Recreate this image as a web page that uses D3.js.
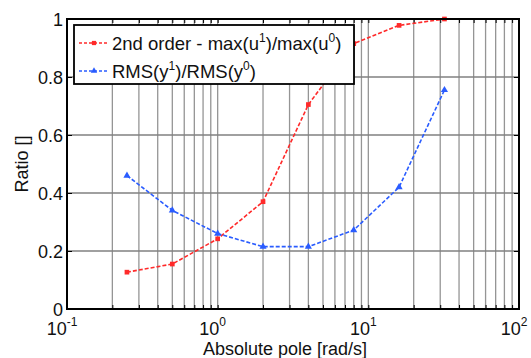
<!DOCTYPE html>
<html lang="en">
<head>
    <meta charset="UTF-8">
    <title>Ratio vs absolute pole</title>
    <script src="https://d3js.org/d3.v7.min.js"></script>
    <style>
        body {
            margin: 0;
            padding: 0;
            background-color: #fff;
            font-family: "Liberation Sans", Arial, sans-serif;
        }
        svg text {
            fill: #111;
        }
    </style>
</head>
<body>
    <svg width="531" height="358"></svg>
    <script>
        // Data
        const poles = [0.25, 0.5, 1, 2, 4, 8, 16, 32];
        const ratioMax = [0.127, 0.155, 0.242, 0.37, 0.705, 0.915, 0.978, 1.0];
        const ratioRms = [0.46, 0.34, 0.26, 0.215, 0.215, 0.272, 0.42, 0.755];
        const yTicks = [0, 0.2, 0.4, 0.6, 0.8, 1];
        const xDecades = [-1, 0, 1, 2];

        const svg = d3.select("svg"),
            margin = { top: 19, right: 12, bottom: 49, left: 67 },
            width = svg.attr("width") - margin.left - margin.right,
            height = svg.attr("height") - margin.top - margin.bottom;

        const g = svg.append("g")
            .attr("transform", `translate(${margin.left},${margin.top})`);

        // Scales
        const x = d3.scaleLog().domain([0.1, 100]).range([0, width]);
        const y = d3.scaleLinear().domain([0, 1]).range([height, 0]);

        // Grid: every minor decade tick on x, 0.2 steps on y
        const minor = [];
        for (let e = -1; e < 2; e++) {
            for (let m = 1; m < 10; m++) minor.push(m * Math.pow(10, e));
        }
        g.append("g").selectAll("line")
            .data(minor.filter(v => v > 0.1))
            .enter().append("line")
            .attr("x1", d => x(d)).attr("x2", d => x(d))
            .attr("y1", 0).attr("y2", height)
            .attr("stroke", "#959595")
            .attr("stroke-width", 1.3);

        g.append("g").selectAll("line")
            .data(yTicks.filter(v => v > 0 && v < 1))
            .enter().append("line")
            .attr("x1", 0).attr("x2", width)
            .attr("y1", d => y(d)).attr("y2", d => y(d))
            .attr("stroke", "#808080")
            .attr("stroke-width", 1.3);

        // Inward ticks
        g.append("g")
            .attr("transform", `translate(0,${height})`)
            .call(d3.axisBottom(x).tickValues(minor).tickSizeInner(-4).tickSizeOuter(0).tickFormat(""))
            .call(a => a.select(".domain").remove())
            .selectAll("line").attr("stroke", "#000");
        g.append("g")
            .call(d3.axisTop(x).tickValues(minor).tickSizeInner(-4).tickSizeOuter(0).tickFormat(""))
            .call(a => a.select(".domain").remove())
            .selectAll("line").attr("stroke", "#000");
        g.append("g")
            .call(d3.axisLeft(y).tickValues(yTicks).tickSizeInner(-5).tickSizeOuter(0).tickFormat(""))
            .call(a => a.select(".domain").remove())
            .selectAll("line").attr("stroke", "#000");
        g.append("g")
            .attr("transform", `translate(${width},0)`)
            .call(d3.axisRight(y).tickValues(yTicks).tickSizeInner(-5).tickSizeOuter(0).tickFormat(""))
            .call(a => a.select(".domain").remove())
            .selectAll("line").attr("stroke", "#000");

        // Tick labels
        g.append("g").selectAll("text")
            .data(yTicks)
            .enter().append("text")
            .attr("x", -4)
            .attr("y", d => y(d) + 6.5)
            .attr("text-anchor", "end")
            .attr("font-size", 18)
            .text(d => d === 0 || d === 1 ? d : d.toFixed(1));

        const xl = g.append("g").selectAll("text")
            .data(xDecades)
            .enter().append("text")
            .attr("x", d => x(Math.pow(10, d)) - 5)
            .attr("y", height + 26)
            .attr("text-anchor", "middle")
            .attr("font-size", 18);
        xl.append("tspan").text("10");
        xl.append("tspan").attr("dy", -9).attr("font-size", 12).text(d => d);

        // Axis titles
        svg.append("text")
            .attr("x", 285)
            .attr("y", 355)
            .attr("text-anchor", "middle")
            .attr("font-size", 18)
            .text("Absolute pole [rad/s]");
        svg.append("text")
            .attr("transform", `translate(28,${margin.top + height / 2}) rotate(-90)`)
            .attr("text-anchor", "middle")
            .attr("font-size", 18)
            .text("Ratio []");

        // Series
        const series = [
            { name: "max", values: ratioMax, color: "#ff2a2a", marker: d3.symbolSquare },
            { name: "rms", values: ratioRms, color: "#2a5cff", marker: d3.symbolTriangle }
        ];
        const line = d3.line().x(d => x(d[0])).y(d => y(d[1]));

        series.forEach(s => {
            const pts = poles.map((p, i) => [p, s.values[i]]);
            g.append("path")
                .datum(pts)
                .attr("fill", "none")
                .attr("stroke", s.color)
                .attr("stroke-width", 1.6)
                .attr("stroke-dasharray", "4,2")
                .attr("d", line);
            g.selectAll(null)
                .data(pts)
                .enter().append("path")
                .attr("transform", d => `translate(${x(d[0])},${y(d[1])})`)
                .attr("d", d3.symbol().type(s.marker).size(22))
                .attr("fill", s.color);
        });

        // Frame
        g.append("rect")
            .attr("width", width).attr("height", height)
            .attr("fill", "none")
            .attr("stroke", "#000")
            .attr("stroke-width", 2);

        // Legend
        const legend = g.append("g").attr("transform", "translate(7,6)");
        legend.append("rect")
            .attr("width", 280).attr("height", 59)
            .attr("fill", "#fff")
            .attr("stroke", "#000")
            .attr("stroke-width", 1.8);
        const labels = [
            ["2nd order - max(u", "1", ")/max(u", "0", ")"],
            ["RMS(y", "1", ")/RMS(y", "0", ")"]
        ];
        series.forEach((s, i) => {
            const ly = 18 + i * 28;
            legend.append("line")
                .attr("x1", 5).attr("x2", 35)
                .attr("y1", ly).attr("y2", ly)
                .attr("stroke", s.color)
                .attr("stroke-width", 1.4)
                .attr("stroke-dasharray", "3,2");
            legend.append("path")
                .attr("transform", `translate(20,${ly})`)
                .attr("d", d3.symbol().type(s.marker).size(18))
                .attr("fill", s.color);
            const t = legend.append("text")
                .attr("x", 38).attr("y", ly + 7)
                .attr("font-size", 18.5);
            labels[i].forEach((part, k) => {
                const sup = k % 2 === 1;
                t.append("tspan")
                    .attr("dy", sup ? -8 : (k > 0 ? 8 : 0))
                    .attr("font-size", sup ? 12 : 18.5)
                    .text(part);
            });
        });
    </script>
</body>
</html>
